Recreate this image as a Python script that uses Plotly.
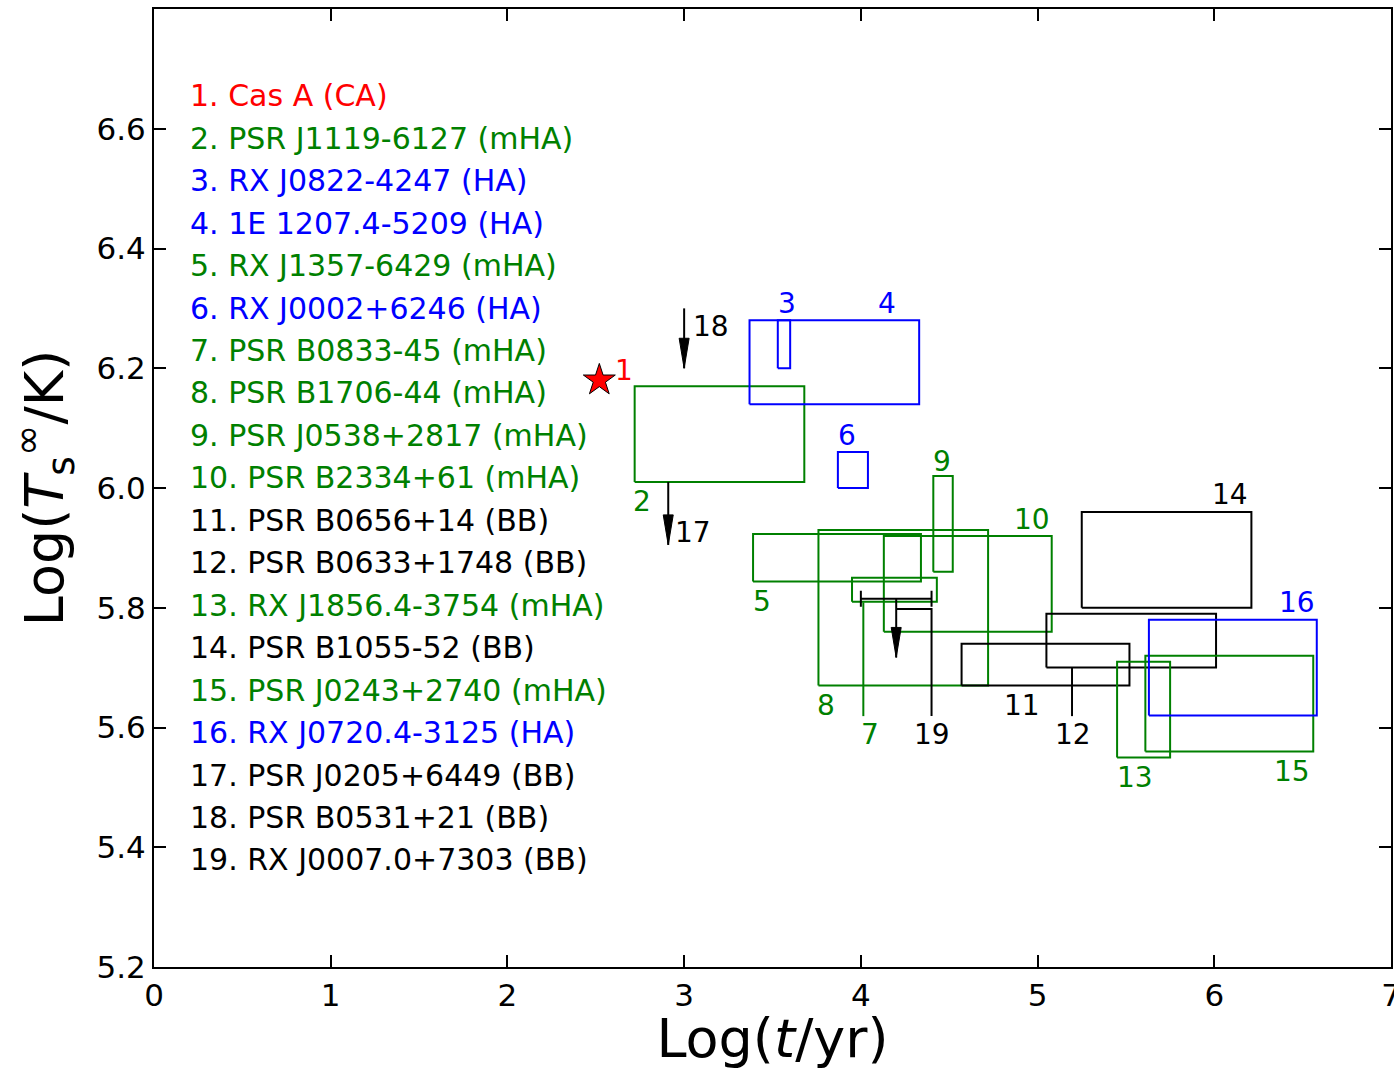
import plotly.graph_objects as go

# ---------------- data ----------------
source_names = [
    "1. Cas A (CA)", "2. PSR J1119-6127 (mHA)", "3. RX J0822-4247 (HA)",
    "4. 1E 1207.4-5209 (HA)", "5. RX J1357-6429 (mHA)", "6. RX J0002+6246 (HA)",
    "7. PSR B0833-45 (mHA)", "8. PSR B1706-44 (mHA)", "9. PSR J0538+2817 (mHA)",
    "10. PSR B2334+61 (mHA)", "11. PSR B0656+14 (BB)", "12. PSR B0633+1748 (BB)",
    "13. RX J1856.4-3754 (mHA)", "14. PSR B1055-52 (BB)", "15. PSR J0243+2740 (mHA)",
    "16. RX J0720.4-3125 (HA)", "17. PSR J0205+6449 (BB)", "18. PSR B0531+21 (BB)",
    "19. RX J0007.0+7303 (BB)",
]
source_class = ["CA", "mHA", "HA", "HA", "mHA", "HA", "mHA", "mHA", "mHA", "mHA",
                "BB", "BB", "mHA", "BB", "mHA", "HA", "BB", "BB", "BB"]

# Cas A point (log t, log T)
casa_logt = [2.52]
casa_logT = [6.18]

# error boxes: source id, log t min/max, log T min/max
box_id = [2, 3, 4, 5, 6, 7, 8, 9, 10, 11, 12, 13, 14, 15, 16]
box_t0 = [2.72, 3.53, 3.37, 3.39, 3.87, 3.95, 3.76, 4.41, 4.13, 4.57, 5.05, 5.45, 5.25, 5.61, 5.63]
box_t1 = [3.68, 3.60, 4.33, 4.34, 4.04, 4.43, 4.72, 4.52, 5.08, 5.52, 6.01, 5.75, 6.21, 6.56, 6.58]
box_T0 = [6.01, 6.20, 6.14, 5.844, 6.00, 5.81, 5.67, 5.86, 5.76, 5.67, 5.70, 5.55, 5.80, 5.56, 5.62]
box_T1 = [6.17, 6.28, 6.28, 5.923, 6.06, 5.85, 5.93, 6.02, 5.92, 5.74, 5.79, 5.71, 5.96, 5.72, 5.78]

# upper limits: source id, log t, log T start, log T limit
ul_id = [17, 18, 19]
ul_logt = [2.91, 3.00, 4.20]
ul_top = [6.01, 6.30, 5.815]
ul_tip = [5.905, 6.20, 5.717]

# age range of source 19
age19_min = 4.00
age19_max = 4.40
age19_T = 5.815

# leader lines to labels (x list, y list, source id)
leader_id = [7, 12, 19]
leader_x = [[4.014, 4.014], [5.195, 5.195], [4.20, 4.40, 4.40]]
leader_y = [[5.809, 5.619], [5.70, 5.619], [5.798, 5.798, 5.619]]

# number label positions (log t, log T)
label_x = [2.66, 2.76, 3.58, 4.15, 3.44, 3.92, 4.05, 3.80, 4.46, 4.97,
           4.91, 5.20, 5.55, 6.09, 6.44, 6.47, 3.05, 3.15, 4.40]
label_y = [6.196, 5.977, 6.308, 6.308, 5.810, 6.087, 5.588, 5.636, 6.045, 5.948,
           5.636, 5.588, 5.516, 5.989, 5.527, 5.808, 5.925, 6.269, 5.588]

x_ticks = [0, 1, 2, 3, 4, 5, 6, 7]
y_ticks = [5.2, 5.4, 5.6, 5.8, 6.0, 6.2, 6.4, 6.6]
y_ticktext = ["5.2", "5.4", "5.6", "5.8", "6.0", "6.2", "6.4", "6.6"]

# ---------------- styles ----------------
class_color = {"CA": "#ff0000", "mHA": "#008000", "HA": "#0000ff", "BB": "#000000"}
FONT = "DejaVu Sans"

fig = go.Figure()

# boxes
for i, sid in enumerate(box_id):
    c = class_color[source_class[sid - 1]]
    fig.add_trace(go.Scatter(
        x=[box_t0[i], box_t1[i], box_t1[i], box_t0[i], box_t0[i]],
        y=[box_T0[i], box_T0[i], box_T1[i], box_T1[i], box_T0[i]],
        mode="lines", line=dict(color=c, width=2), hoverinfo="skip", showlegend=False))

# leader lines
for i, sid in enumerate(leader_id):
    c = class_color[source_class[sid - 1]]
    fig.add_trace(go.Scatter(x=leader_x[i], y=leader_y[i], mode="lines",
                             line=dict(color=c, width=2), hoverinfo="skip", showlegend=False))

# source 19 age range with caps
fig.add_trace(go.Scatter(
    x=[(age19_min + age19_max) / 2], y=[age19_T], mode="markers",
    marker=dict(size=1, color="black", opacity=0),
    error_x=dict(type="data", array=[(age19_max - age19_min) / 2], color="black",
                 thickness=2, width=8),
    hoverinfo="skip", showlegend=False))

# upper-limit arrows: shaft + pixel-sized head anchored at the tip
shapes = []
for i, sid in enumerate(ul_id):
    fig.add_trace(go.Scatter(x=[ul_logt[i], ul_logt[i]], y=[ul_top[i], ul_tip[i]],
                             mode="lines", line=dict(color="black", width=2),
                             hoverinfo="skip", showlegend=False))
    shapes.append(dict(type="path", xref="x", yref="y",
                       xsizemode="pixel", ysizemode="pixel",
                       xanchor=ul_logt[i], yanchor=ul_tip[i],
                       path="M0,0 L-5,30 L5,30 Z",
                       fillcolor="black", line=dict(color="black", width=1)))

# Cas A star
fig.add_trace(go.Scatter(x=casa_logt, y=casa_logT, mode="markers",
                         marker=dict(symbol="star", size=24, color="#ff0000",
                                     line=dict(color="black", width=1)),
                         hoverinfo="skip", showlegend=False))

annotations = []
# number labels
for i in range(len(source_names)):
    annotations.append(dict(x=label_x[i], y=label_y[i], xref="x", yref="y",
                            text=str(i + 1), showarrow=False,
                            xanchor="center", yanchor="middle",
                            font=dict(family=FONT, size=28,
                                      color=class_color[source_class[i]])))

# list of sources
list_x = 0.19
list_y0 = 6.655
list_dy = 0.0709
for i, name in enumerate(source_names):
    annotations.append(dict(x=list_x, y=list_y0 - i * list_dy, xref="x", yref="y",
                            text=name, showarrow=False,
                            xanchor="left", yanchor="middle",
                            font=dict(family=FONT, size=30,
                                      color=class_color[source_class[i]])))

axis_common = dict(showline=True, linewidth=2, linecolor="black", mirror="ticks",
                   ticks="inside", ticklen=12, tickwidth=1.5, tickcolor="black",
                   showgrid=False, zeroline=False, automargin=False,
                   tickfont=dict(family=FONT, size=31, color="black"))

fig.update_layout(
    width=1394, height=1070,
    margin=dict(l=154, r=3, t=9, b=103),
    plot_bgcolor="white", paper_bgcolor="white",
    xaxis=dict(range=[0, 7], tickvals=x_ticks, ticklabeloverflow="allow",
               title=dict(text="Log(<i>t</i>/yr)",
                          font=dict(family=FONT, size=54, color="black"), standoff=14),
               **axis_common),
    yaxis=dict(range=[5.2, 6.8], tickvals=y_ticks, ticktext=y_ticktext,
               title=dict(text="Log(<i>T</i><sub>s</sub><sup>∞</sup>/K)",
                          font=dict(family=FONT, size=54, color="black"), standoff=16),
               **axis_common),
    shapes=shapes,
    annotations=annotations,
    showlegend=False,
)

fig.write_html("out.html")
